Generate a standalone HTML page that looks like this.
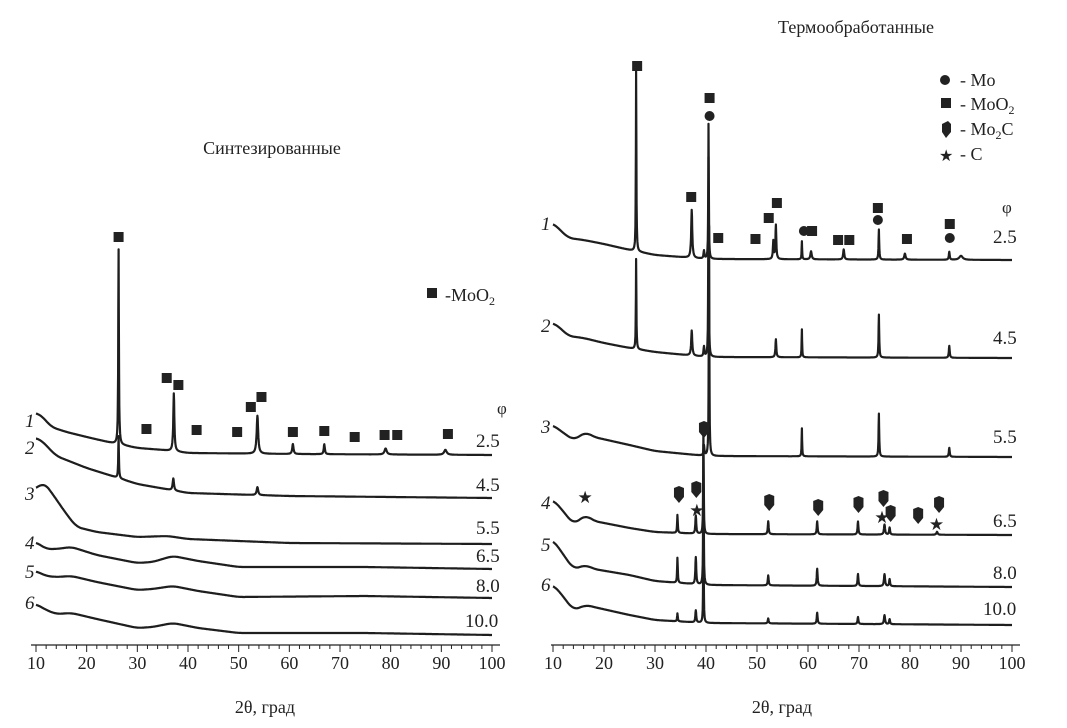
<!DOCTYPE html>
<html><head><meta charset="utf-8">
<style>
body{margin:0;background:#fff;}
svg{display:block;font-family:"Liberation Serif",serif;}
</style></head>
<body>
<svg id="c" width="1067" height="728" viewBox="0 0 1067 728">
<text x="272" y="154" font-size="18" text-anchor="middle" fill="#222">Синтезированные</text>
<text x="856" y="33" font-size="18" text-anchor="middle" fill="#222">Термообработанные</text>
<text x="265" y="713" font-size="18" text-anchor="middle" fill="#222">2θ, град</text>
<text x="782" y="713" font-size="18" text-anchor="middle" fill="#222">2θ, град</text>
<g>
<rect x="427" y="288" width="10" height="10" fill="#222"/>
<text x="445" y="301" font-size="18" fill="#222">-MoO<tspan font-size="12" dy="4">2</tspan></text>
</g>
<g>
<circle cx="945" cy="80" r="5" fill="#222"/>
<text x="960" y="86" font-size="18" fill="#222">- Mo</text>
<rect x="941" y="98" width="10" height="10" fill="#222"/>
<text x="960" y="110" font-size="18" fill="#222">- MoO<tspan font-size="12" dy="4">2</tspan></text>
<path d="M942,124 L948,121 L951,124 L951,132 L946,138 L942,132Z" fill="#222"/>
<text x="960" y="135" font-size="18" fill="#222">- Mo<tspan font-size="12" dy="4">2</tspan><tspan dy="-4">C</tspan></text>
<text x="939" y="161" font-size="16" fill="#222">★</text>
<text x="960" y="160" font-size="18" fill="#222">- C</text>
</g>
<g id="plots"></g>
</svg>
<script>
// ---- data: left panel (synthesized), intensity in a.u. relative to baseline at 100°
const phiValues=["2.5","4.5","5.5","6.5","8.0","10.0"];
const curveLabels=["1","2","3","4","5","6"];
const tickLabels=[10,20,30,40,50,60,70,80,90,100];
const L1base=[[10,42],[11,40],[13,28],[16,23],[20,18],[25,12],[30,7],[35,5],[40,2],[60,1],[100,0]];
const L1peaks=[[26.3,195,0.15],[37.2,58,0.25],[53.7,38,0.35],[60.7,10,0.3],[66.9,10,0.25],[79,6,0.5],[90.8,5,0.6]];
const L2base=[[10,60],[11,58],[14,42],[20,30],[25,22],[30,14],[40,5],[60,2],[100,0]];
const L2peaks=[[26.3,42,0.15],[37.1,12,0.3],[53.7,8,0.35]];
const L3base=[[10,55],[11.5,62],[13,52],[16,30],[18,17],[22,12],[30,7],[36,8],[40,5],[60,1],[100,0]];
const L3peaks=[];
const L4base=[[10,27],[12,20],[14,20],[17,22],[22,14],[30,6],[33,7],[37,13],[42,8],[50,2],[75,2],[100,0]];
const L4peaks=[];
const L5base=[[10,27],[12,22],[14,21],[17,22],[22,16],[30,8],[33,9],[37,12],[42,7],[50,1],[75,2],[100,0]];
const L5peaks=[];
const L6base=[[10,31],[12,25],[14,21],[17,22],[22,16],[30,7],[33,8],[37,12],[42,7],[50,2],[75,2],[100,0]];
const L6peaks=[];
// ---- data: right panel (annealed)
const R1base=[[10,37],[11,32],[13,22],[16,20],[20,16],[25,10],[30,5],[40,1],[100,0]];
const R1peaks=[[26.3,180,0.12],[37.2,48,0.25],[39.6,8,0.2],[40.5,135,0.12],[53.2,18,0.2],[53.7,34,0.2],[58.8,18,0.12],[60.6,8,0.3],[67,10,0.25],[73.9,30,0.15],[79,6,0.3],[87.7,8,0.2],[90,4,0.8]];
const R2base=[[10,35],[11,32],[13,22],[16,20],[20,15],[25,10],[30,6],[40,1],[100,0]];
const R2peaks=[[26.3,90,0.12],[37.2,25,0.25],[39.6,10,0.2],[40.5,200,0.12],[53.7,18,0.2],[58.8,28,0.12],[73.9,43,0.15],[87.7,12,0.2]];
const R3base=[[10,32],[11,28],[14,17],[16.5,25],[18,20],[25,12],[30,6],[40,1],[100,0]];
const R3peaks=[[39.6,10,0.2],[40.6,230,0.12],[58.8,28,0.12],[73.9,43,0.15],[87.7,9,0.2]];
const R4base=[[10,35],[11,30],[14,11],[16.5,20],[18,14],[25,7],[30,3],[40,1],[100,0]];
const R4peaks=[[34.4,18,0.15],[38,18,0.2],[39.5,105,0.12],[52.2,13,0.2],[61.8,13,0.2],[69.8,13,0.2],[75,10,0.25],[76,7,0.2],[85.3,3,0.3]];
const R5base=[[10,47],[11,40],[14,18],[16.5,22],[18,18],[25,12],[30,6],[40,2],[100,0]];
const R5peaks=[[34.4,25,0.15],[38,27,0.2],[39.5,140,0.12],[52.2,10,0.2],[61.8,17,0.2],[69.8,12,0.2],[75,12,0.25],[76,7,0.2]];
const R6base=[[10,40],[11,35],[14,15],[16.5,20],[18,18],[25,10],[30,5],[40,2],[100,0]];
const R6peaks=[[34.4,8,0.15],[38,12,0.2],[39.5,95,0.12],[52.2,5,0.2],[61.8,11,0.2],[69.8,7,0.2],[75,9,0.25],[76,5,0.2]];
// phase marker annotations [2θ, height above axis a.u.]
const leftSquares=[[26.3,408],[31.8,216],[35.8,267],[38.1,260],[41.7,215],[49.7,213],[52.4,238],[54.5,248],[60.7,213],[66.9,214],[72.9,208],[78.8,210],[81.3,210],[91.3,211]];
const rightSquares=[[26.5,579],[40.7,547],[37.1,448],[42.4,407],[49.7,406],[52.3,427],[53.9,442],[60.8,414],[65.9,405],[68.1,405],[73.7,437],[79.4,406],[87.8,421]];
const rightCircles=[[40.7,529],[59.2,414],[73.7,425],[87.8,407]];
const mo2cMarks=[[39.6,215],[34.7,150],[38.1,155],[52.4,142],[62,137],[69.9,140],[74.8,146],[76.2,131],[81.6,129],[85.7,140]];
const cStars=[[16.3,148],[38.2,135],[74.5,128],[85.2,121]];

const NS="http://www.w3.org/2000/svg";
const g=document.getElementById('plots');
const axisY=645;
function xL(v){return 36+(v-10)*(492-36)/90;}
function xR(v){return 553+(v-10)*(1012-553)/90;}
function lin(b,v){if(v<=b[0][0])return b[0][1];for(let i=0;i<b.length-1;i++){if(v>=b[i][0]&&v<=b[i+1][0]){const t=(v-b[i][0])/(b[i+1][0]-b[i][0]);return b[i][1]+t*(b[i+1][1]-b[i][1]);}}return b[b.length-1][1];}
function interp(b,v){let s=0,n=0;for(let u=-1;u<=1.001;u+=0.25){const w=Math.max(10,v+u);s+=lin(b,w);n++;}return s/n;}
function intensity(base,peaks,v){let s=interp(base,v);for(const p of peaks){const d=(v-p[0])/p[2];s+=p[1]/(1+d*d*4);}return s;}
function mk(tag,attrs){const e=document.createElementNS(NS,tag);for(const k in attrs)e.setAttribute(k,attrs[k]);g.appendChild(e);return e;}
function drawCurve(xf,base,peaks,y0,name){
  let d="";
  for(let v=10;v<=100.001;v+=0.05){const y=y0-intensity(base,peaks,v);d+=(d?"L":"M")+xf(v).toFixed(1)+","+y.toFixed(1);}
  const p=mk('path',{d:d,fill:'none',stroke:'#1e1e1e','stroke-width':2.2,'stroke-linejoin':'round'});
  
  
}
const leftSets=[[L1base,L1peaks,455],[L2base,L2peaks,498],[L3base,L3peaks,544],[L4base,L4peaks,569],[L5base,L5peaks,598],[L6base,L6peaks,635]];
const rightSets=[[R1base,R1peaks,260],[R2base,R2peaks,358],[R3base,R3peaks,457],[R4base,R4peaks,535],[R5base,R5peaks,587],[R6base,R6peaks,625]];
leftSets.forEach((s,i)=>drawCurve(xL,s[0],s[1],s[2],'left-curve-'+(i+1)));
rightSets.forEach((s,i)=>drawCurve(xR,s[0],s[1],s[2],'right-curve-'+(i+1)));
function drawAxis(xf,x0,x1,side){
  const a=mk('line',{x1:x0,x2:x1,y1:axisY,y2:axisY,stroke:'#222','stroke-width':1.2});
  
  
  for(let v=10;v<=100;v+=2){const maj=(v%10===0);mk('line',{x1:xf(v),x2:xf(v),y1:axisY,y2:axisY+(maj?7:4),stroke:'#222','stroke-width':1});}
  tickLabels.forEach(t=>{const e=mk('text',{x:xf(t),y:axisY+24,'font-size':18,'text-anchor':'middle',fill:'#222'});e.textContent=t;
    
    });
}
drawAxis(xL,31,500,'left');drawAxis(xR,551,1020,'right');
function label(x,y,txt,italic,name,size){const e=mk('text',{x:x,y:y,'font-size':size||19,fill:'#222'});if(italic)e.setAttribute('font-style','italic');e.textContent=txt;
  
  }
const lNumY=[427,454,500,549,578,609],lPhiY=[447,491,534,562,592,627];
const rNumY=[230,332,433,509,551,591],rPhiY=[243,344,443,527,579,615];
curveLabels.forEach((t,i)=>{label(25,lNumY[i],t,true,'left-curve-number');label(541,rNumY[i],t,true,'right-curve-number');});
phiValues.forEach((t,i)=>{label(t.length>3?465:476,lPhiY[i],t,false,'left-phi-value');label(t.length>3?983:993,rPhiY[i],t,false,'right-phi-value');});
label(497,414,'φ',false,'left-phi-header',17);label(1002,213,'φ',false,'right-phi-header',17);
function sq(xf,v,h,name){const e=mk('rect',{x:xf(v)-5,y:axisY-h-5,width:10,height:10,fill:'#222'});
  
  }
leftSquares.forEach(m=>sq(xL,m[0],m[1],'moo2-marker'));
rightSquares.forEach(m=>sq(xR,m[0],m[1],'moo2-marker'));
rightCircles.forEach(m=>{const e=mk('circle',{cx:xR(m[0]),cy:axisY-m[1],r:5,fill:'#222'});
  
  });
mo2cMarks.forEach(m=>{const x=xR(m[0]),y=axisY-m[1];const e=mk('path',{d:`M${x-5},${y-7} L${x},${y-9} L${x+5},${y-7} L${x+5},${y+2} L${x},${y+8} L${x-5},${y+2}Z`,fill:'#222'});
  
  });
cStars.forEach(m=>{const e=mk('text',{x:xR(m[0]),y:axisY-m[1]+6,'font-size':17,'text-anchor':'middle',fill:'#222'});e.textContent='★';
  
  });
</script>
</body></html>
